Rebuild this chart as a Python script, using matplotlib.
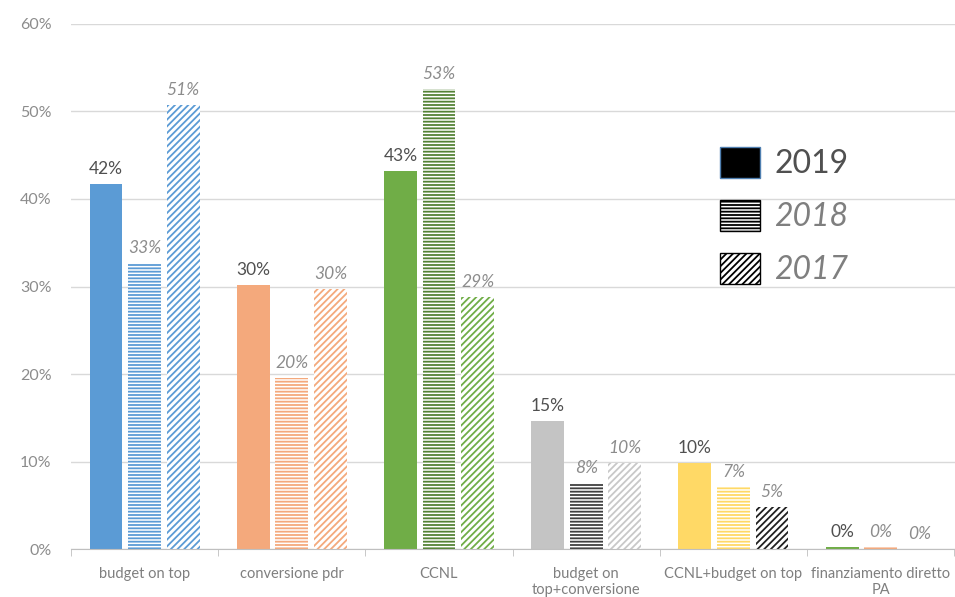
import matplotlib.pyplot as plt
import matplotlib.ticker as ticker
from matplotlib.patches import Patch
import numpy as np

categories = ["budget on top", "conversione pdr", "CCNL", "budget on\ntop+conversione",
              "CCNL+budget on top", "finanziamento diretto\nPA"]
years = ["2019", "2018", "2017"]
v2019 = [0.417, 0.302, 0.432, 0.146, 0.099, 0.003]
v2018 = [0.327, 0.196, 0.526, 0.076, 0.071, 0.002]
v2017 = [0.507, 0.297, 0.288, 0.098, 0.048, 0.0]

# colour of each bar: one row per year
colors_2019 = ["#5B9BD5", "#F4A97C", "#70AD47", "#C4C4C4", "#FFD966", "#70AD47"]
colors_2018 = ["#5B9BD5", "#F4A97C", "#548235", "#404040", "#FFD966", "#F4A97C"]
colors_2017 = ["#5B9BD5", "#F4A97C", "#70AD47", "#C8C8C8", "#202020", "#5B9BD5"]

plt.rcParams['font.family'] = ['Lato', 'DejaVu Sans']
plt.rcParams['hatch.linewidth'] = 1.3

fig = plt.figure(figsize=(9.55, 5.97), dpi=100)
ax = fig.add_axes([0.0743, 0.080, 0.928, 0.880])

x = np.arange(len(categories))
w = 0.224
off = 0.262

ax.bar(x - off, v2019, w, color=colors_2019, zorder=2)
ax.bar(x, v2018, w, color="white", edgecolor=colors_2018, hatch="-----", linewidth=0, zorder=2)
ax.bar(x + off, v2017, w, color="white", edgecolor=colors_2017, hatch="/////", linewidth=0, zorder=2)

# value labels
for xi, v in zip(x, v2019):
    ax.text(xi - off, v + 0.008, "{:.0%}".format(v), ha="center", va="bottom",
            fontsize=12.5, color="#505050")
for xi, v in zip(x, v2018):
    ax.text(xi, v + 0.008, "{:.0%}".format(v), ha="center", va="bottom",
            fontsize=12.5, color="#8C8C8C", style="italic")
for xi, v in zip(x, v2017):
    ax.text(xi + off, v + 0.008, "{:.0%}".format(v), ha="center", va="bottom",
            fontsize=12.5, color="#8C8C8C", style="italic")

ax.set_ylim(0, 0.6)
ax.set_xlim(-0.5, 5.52)
ax.yaxis.set_major_locator(ticker.MultipleLocator(0.1))
ax.yaxis.set_major_formatter(ticker.PercentFormatter(1.0, decimals=0))
ax.grid(axis="y", color="#D9D9D9", linewidth=1, zorder=0)
ax.tick_params(axis="y", length=0, labelsize=11.5, labelcolor="#8C8C8C", pad=14)

ax.set_xticks(x)
ax.set_xticklabels(categories, fontsize=10.5, color="#7F7F7F")
ax.set_xticks(np.arange(-0.5, 6, 1), minor=True)
ax.tick_params(axis="x", which="major", length=0, pad=13)
ax.tick_params(axis="x", which="minor", length=5, color="#BFBFBF")

for s in ["top", "right", "left"]:
    ax.spines[s].set_visible(False)
ax.spines["bottom"].set_color("#BFBFBF")

handles = [Patch(facecolor="black", edgecolor="#4F7FB0", linewidth=1),
           Patch(facecolor="white", edgecolor="black", hatch="-----", linewidth=1),
           Patch(facecolor="white", edgecolor="black", hatch="/////", linewidth=1)]
leg = ax.legend(handles, years, loc="upper left", bbox_to_anchor=(0.718, 0.79),
                frameon=False, fontsize=23, handlelength=1.25, handleheight=1.1,
                labelspacing=0.65, handletextpad=0.45, borderaxespad=0)
for i, t in enumerate(leg.get_texts()):
    if i == 0:
        t.set_color("#505050")
    else:
        t.set_color("#7F7F7F")
        t.set_style("italic")

fig.savefig("out.png", dpi=100)
